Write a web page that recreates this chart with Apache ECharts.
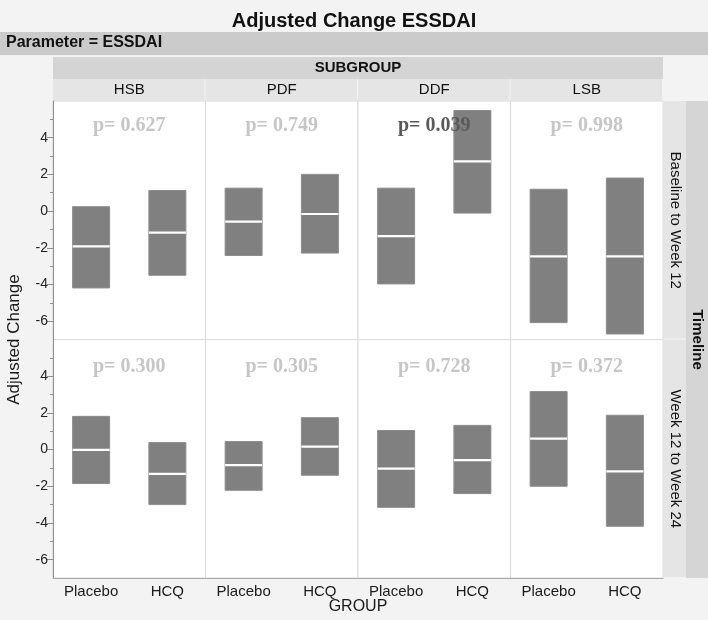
<!DOCTYPE html>
<html>
<head>
<meta charset="utf-8">
<script src="https://cdn.jsdelivr.net/npm/echarts@6/dist/echarts.min.js"></script>
<style>
html,body{margin:0;padding:0;background:#f3f3f3;}
#chart{width:708px;height:620px;}
</style>
</head>
<body>
<div id="chart"></div>
<script>
// ---- data ----
const subgroups = ['HSB', 'PDF', 'DDF', 'LSB'];
const groups = ['Placebo', 'HCQ'];
const timelines = ['Baseline to Week 12', 'Week 12 to Week 24'];
// order: HSB Placebo, HSB HCQ, PDF Placebo, PDF HCQ, DDF Placebo, DDF HCQ, LSB Placebo, LSB HCQ
const lowW12  = [-4.19, -3.50, -2.42, -2.29, -3.97, -0.11, -6.08, -6.70];
const meanW12 = [-1.92, -1.17, -0.57, -0.16, -1.36,  2.71, -2.47, -2.47];
const highW12 = [ 0.24,  1.12,  1.25,  2.00,  1.25,  5.48,  1.19,  1.80];
const lowW24  = [-1.85, -3.00, -2.22, -1.40, -3.15, -2.40, -2.00, -4.18];
const meanW24 = [-0.02, -1.32, -0.85,  0.16, -1.04, -0.57,  0.60, -1.19];
const highW24 = [ 1.81,  0.38,  0.44,  1.74,  1.04,  1.32,  3.16,  1.87];
const pW12 = ['0.627', '0.749', '0.039', '0.998'];
const pW24 = ['0.300', '0.305', '0.728', '0.372'];
const yMajorTicks = [-6, -4, -2, 0, 2, 4];
const yMinorTicks = [-5, -3, -1, 1, 3, 5];

// ---- layout ----
const L = 53, R = 663, PW = (R - L) / 4, T = 101, PH = 238.5;
const FONT = '"Liberation Sans", Arial, Helvetica, sans-serif';
const SERIF = '"Liberation Serif", "Times New Roman", serif';

const rows = [
  {low: lowW12, mean: meanW12, high: highW12, p: pW12},
  {low: lowW24, mean: meanW24, high: highW24, p: pW24}
];

const grids = [], xAxes = [], yAxes = [], series = [];
rows.forEach((row, r) => {
  subgroups.forEach((sg, c) => {
    const gi = grids.length;
    grids.push({left: L + c * PW, top: T + r * PH, width: PW, height: PH,
      show: true, backgroundColor: '#ffffff', borderColor: '#dadada', borderWidth: 1});
    xAxes.push({type: 'category', gridIndex: gi, data: groups, position: 'bottom',
      axisLine: {show: r === 1, onZero: false, lineStyle: {color: '#a8a8a8', width: 1}},
      axisTick: {show: false},
      axisLabel: {show: r === 1, color: '#1a1a1a', fontSize: 15, fontFamily: FONT, margin: 6}});
    const yi = yAxes.length;
    yAxes.push({type: 'value', gridIndex: gi, min: -7, max: 6, position: 'left',
      show: c === 0,
      splitLine: {show: false},
      axisLine: {show: true, onZero: false, lineStyle: {color: '#8f8f8f'}},
      axisTick: {show: true, length: 6, customValues: yMajorTicks, lineStyle: {color: '#8f8f8f'}},
      axisLabel: {customValues: yMajorTicks, color: '#222', fontSize: 14, fontFamily: FONT, margin: 5}});
    if (c === 0) {
      yAxes.push({type: 'value', gridIndex: gi, min: -7, max: 6, position: 'left', offset: 0,
        splitLine: {show: false}, axisLine: {show: false}, axisLabel: {show: false},
        axisTick: {show: true, length: 3, customValues: yMinorTicks, lineStyle: {color: '#8f8f8f'}}});
    }
    const data = groups.map((g, k) => [k, row.low[c * 2 + k], row.mean[c * 2 + k], row.high[c * 2 + k]]);
    series.push({type: 'custom', xAxisIndex: gi, yAxisIndex: yi, data: data,
      encode: {x: 0, y: [1, 2, 3]},
      renderItem: function (params, api) {
        const x = api.value(0);
        const lo = api.coord([x, api.value(1)]);
        const mid = api.coord([x, api.value(2)]);
        const hi = api.coord([x, api.value(3)]);
        const w = api.size([1, 0])[0] * 0.485;
        return {type: 'group', children: [
          {type: 'rect', shape: {x: lo[0] - w / 2, y: hi[1], width: w, height: lo[1] - hi[1]},
            style: {fill: '#808080', stroke: '#8c8c8c', lineWidth: 1}},
          {type: 'line', shape: {x1: lo[0] - w / 2, y1: mid[1], x2: lo[0] + w / 2, y2: mid[1]},
            style: {stroke: '#ffffff', lineWidth: 2.2}}
        ]};
      }});
    const pv = row.p[c];
    const pY = r === 0 ? 4.65 : 4.5;
    series.push({type: 'custom', xAxisIndex: gi, yAxisIndex: yi, data: [[0, pY]],
      renderItem: function (params, api) {
        const a = api.coord([0, api.value(1)]);
        const b = api.coord([1, api.value(1)]);
        return {type: 'text', style: {text: 'p= ' + pv, x: (a[0] + b[0]) / 2, y: a[1],
          align: 'center', verticalAlign: 'middle',
          font: 'bold 20px ' + SERIF,
          fill: parseFloat(pv) < 0.05 ? '#5a5a5a' : '#c6c6c6'}};
      }});
  });
});

// ---- header / strip decorations ----
const graphic = [];
graphic.push({type: 'rect', left: 0, top: 32, shape: {width: 708, height: 23}, style: {fill: '#cbcbcb'}, silent: true});
graphic.push({type: 'text', left: 6, top: 35, style: {text: 'Parameter = ESSDAI', font: 'bold 16px ' + FONT, fill: '#111'}});
graphic.push({type: 'rect', left: L, top: 57, shape: {width: R - L, height: 22}, style: {fill: '#d4d4d4'}});
graphic.push({type: 'text', x: (L + R) / 2, y: 68, style: {text: 'SUBGROUP', font: 'bold 15px ' + FONT, fill: '#111', align: 'center', verticalAlign: 'middle'}});
subgroups.forEach((sg, c) => {
  graphic.push({type: 'rect', left: L + c * PW, top: 79, shape: {width: PW - 1, height: 22}, style: {fill: '#e5e5e5'}});
  graphic.push({type: 'text', x: L + c * PW + PW / 2, y: 90, style: {text: sg, font: '15px ' + FONT, fill: '#111', align: 'center', verticalAlign: 'middle'}});
});
timelines.forEach((tl, r) => {
  graphic.push({type: 'rect', left: R, top: T + r * PH, shape: {width: 23, height: PH - 1}, style: {fill: '#e5e5e5'}});
  graphic.push({type: 'text', x: R + 12, y: T + r * PH + PH / 2, rotation: -Math.PI / 2,
    style: {text: tl, font: '15px ' + FONT, fill: '#111', align: 'center', verticalAlign: 'middle'}});
});
graphic.push({type: 'rect', left: R + 23, top: T, shape: {width: 708 - R - 23, height: 2 * PH}, style: {fill: '#d5d5d5'}});
graphic.push({type: 'text', x: R + 34, y: T + PH, rotation: -Math.PI / 2,
  style: {text: 'Timeline', font: 'bold 15px ' + FONT, fill: '#111', align: 'center', verticalAlign: 'middle'}});
graphic.push({type: 'text', x: 14, y: T + PH, rotation: Math.PI / 2,
  style: {text: 'Adjusted Change', font: '17px ' + FONT, fill: '#1a1a1a', align: 'center', verticalAlign: 'middle'}});
graphic.push({type: 'text', x: (L + R) / 2, y: 607,
  style: {text: 'GROUP', font: '16px ' + FONT, fill: '#1a1a1a', align: 'center', verticalAlign: 'middle'}});

const chart = echarts.init(document.getElementById('chart'), null, {renderer: 'canvas'});
chart.setOption({
  backgroundColor: '#f3f3f3',
  animation: false,
  title: {text: 'Adjusted Change ESSDAI', left: 'center', top: 6,
    textStyle: {fontSize: 20, fontWeight: 'bold', color: '#111', fontFamily: FONT}},
  grid: grids,
  xAxis: xAxes,
  yAxis: yAxes,
  series: series,
  graphic: graphic
});
</script>
</body>
</html>
